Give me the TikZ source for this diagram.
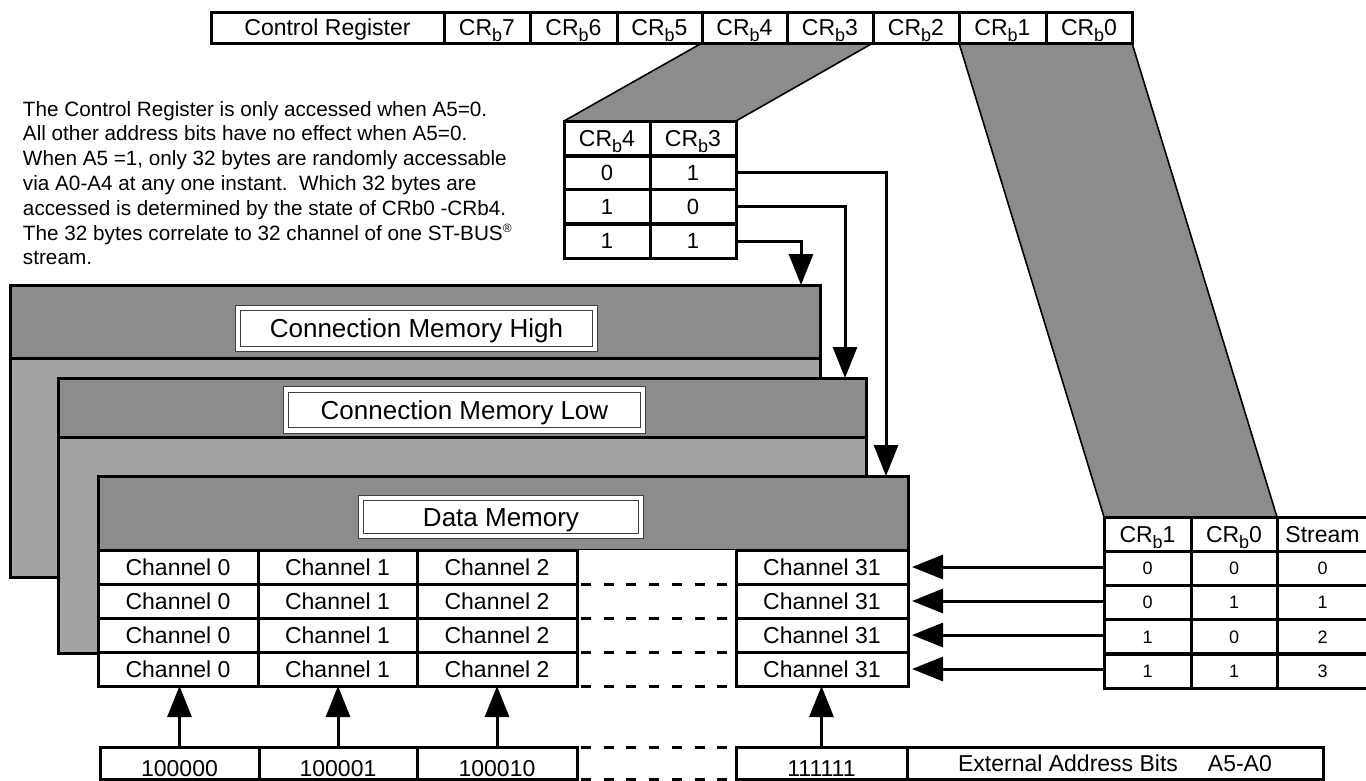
\documentclass[tikz,border=0pt]{standalone}
\usepackage{fontspec}
\setmainfont{Liberation Sans}
\usetikzlibrary{arrows.meta,calc,backgrounds}
\definecolor{dk}{RGB}{140,140,140}
\definecolor{lt}{RGB}{162,164,164}
\newcommand\crb[1]{CR\raisebox{-0.25em}{\fontsize{18}{18}\selectfont b}#1}
\begin{document}
\begin{tikzpicture}[x=1pt,y=-1pt,
 every node/.style={inner sep=0pt,outer sep=0pt},
 tb/.style={draw, line width=3pt, text height=16.5pt, text depth=0pt, font=\fontsize{23}{23}\selectfont},
 sm/.style={tb, text height=13pt, font=\fontsize{18}{18}\selectfont},
 md/.style={tb, text height=15.8pt, font=\fontsize{22}{22}\selectfont},
 ad/.style={tb, text height=26.5pt},
 lbl/.style={draw=black!75, line width=1pt, double=white, double distance=4.5pt, fill=white, text height=18.7pt, text depth=0pt, font=\fontsize{26}{26}\selectfont},
 mem/.style={draw, line width=3pt, fill=lt},
 hdr/.style={draw, line width=3pt, fill=dk},
 arr/.style={line width=3pt, -{Triangle[length=31pt,width=24pt]}},
 dsh/.style={line width=3pt, dash pattern=on 10pt off 12.7pt, dash phase=-4pt},
 wedge/.style={draw, line width=1.6pt, fill=dk, line join=round}]
\useasboundingbox (0,0) rectangle (1366,780);

% control register
\node[tb, minimum width=233, minimum height=31] (cr) at (327.5,27.5) {Control Register};
\node[tb, minimum width=86, minimum height=31] (b7) at (487,27.5) {\crb7};
\node[tb, minimum width=87, minimum height=31] (b6) at (573.5,27.5) {\crb6};
\node[tb, minimum width=85, minimum height=31] (b5) at (659.5,27.5) {\crb5};
\node[tb, minimum width=85, minimum height=31] (b4) at (744.5,27.5) {\crb4};
\node[tb, minimum width=86, minimum height=31] (b3) at (830,27.5) {\crb3};
\node[tb, minimum width=86, minimum height=31] (b2) at (916,27.5) {\crb2};
\node[tb, minimum width=87, minimum height=31] (b1) at (1002.5,27.5) {\crb1};
\node[tb, minimum width=86, minimum height=31] (b0) at (1089,27.5) {\crb0};

% paragraph
\node[anchor=north west, align=left, font=\fontsize{20.7}{24.8}\selectfont] (para) at (23,101)
 {The Control Register is only accessed when A5=0.\\
  All other address bits have no effect when A5=0.\\
  When A5 =1, only 32 bytes are randomly accessable\\
  via A0-A4 at any one instant.\ \ Which 32 bytes are\\
  accessed is determined by the state of CRb0 -CRb4.\\
  The 32 bytes correlate to 32 channel of one ST-BUS\raisebox{0.35em}{\fontsize{12}{12}\selectfont ®}\\
  stream.};

% small table CRb4/CRb3
\node[tb, minimum width=86, minimum height=35] (s4h) at (607,138.5) {\crb4};
\node[tb, minimum width=86, minimum height=35] (s3h) at (693,138.5) {\crb3};
\foreach \r/\y/\u/\v in {1/172.5/0/1, 2/206.5/1/0, 3/241/1/1} {
  \node[md, minimum width=86, minimum height=34] (s\r a) at (607,\y) {\u};
  \node[md, minimum width=86, minimum height=34] (s\r b) at (693,\y) {\v};
}

% right table
\node[tb, minimum width=87, minimum height=34] (rh1) at (1147.5,534) {\crb1};
\node[tb, minimum width=86, minimum height=34] (rh0) at (1234,534) {\crb0};
\node[tb, minimum width=91, minimum height=34] (rhs) at (1322.5,534) {Stream};
\foreach \r/\y/\u/\v/\w in {1/568/0/0/0, 2/602/0/1/1, 3/636.5/1/0/2, 4/671/1/1/3} {
  \node[sm, minimum width=87, minimum height=34] (r\r a) at (1147.5,\y) {\u};
  \node[sm, minimum width=86, minimum height=34] (r\r b) at (1234,\y) {\v};
  \node[sm, minimum width=91, minimum height=34] (r\r c) at (1322.5,\y) {\w};
}

% grey wedges
\begin{pgfonlayer}{background}
\draw[wedge] (b4.south west) -- (b3.south east) -- (s3h.north east) -- (s4h.north west) -- cycle;
\draw[wedge] (b1.south west) -- (b0.south east) -- (rh0.north east) -- (rh1.north west) -- cycle;
\end{pgfonlayer}

% memories
\node[mem, minimum width=810, minimum height=292] (cmh) at (415,431) {};
\draw[hdr] (cmh.north west) rectangle ($(cmh.north east)+(0,73)$);
\node[lbl, minimum width=357, minimum height=41] (cmhl) at (416.5,328.5) {Connection Memory High};

\node[mem, minimum width=808, minimum height=275] (cml) at (462,515.5) {};
\draw[hdr] (cml.north west) rectangle ($(cml.north east)+(0,59)$);
\node[lbl, minimum width=357, minimum height=41] (cmll) at (464.5,410) {Connection Memory Low};

\node[hdr, minimum width=810, minimum height=74] (dm) at (503,513) {};
\node[lbl, minimum width=280, minimum height=38] (dml) at (501,517) {Data Memory};
\fill[white] (dm.south west) rectangle ($(dm.south east)+(0,136)$);

% channel cells
\foreach \r/\y in {1/567,2/601,3/635,4/669} {
  \node[tb, minimum width=160, minimum height=34] (ch\r a) at (178,\y) {Channel 0};
  \node[tb, minimum width=159, minimum height=34] (ch\r b) at (337.5,\y) {Channel 1};
  \node[tb, minimum width=160, minimum height=34] (ch\r c) at (497,\y) {Channel 2};
  \node[tb, minimum width=172, minimum height=34] (ch\r d) at (822,\y) {Channel 31};
}
\foreach \r in {1,...,4} \draw[dsh] (ch\r c.south east) -- (ch\r d.south west);

% address bits
\node[ad, minimum width=159, minimum height=32] (a1) at (179.5,763) {100000};
\node[ad, minimum width=158, minimum height=32] (a2) at (338,763) {100001};
\node[ad, minimum width=160, minimum height=32] (a3) at (497,763) {100010};
\node[ad, minimum width=171, minimum height=32] (a4) at (821.5,763) {111111};
\node[tb, minimum width=416, minimum height=32] (ext) at (1115,763) {External Address Bits\hspace{30pt}A5-A0};
\draw[dsh] (a3.north east) -- (a4.north west);
\draw[dsh] (a3.south east) -- (a4.south west);

% arrows
\draw[arr] (s1b.east) -| ([xshift=-22]dm.north east);
\draw[arr] (s2b.east) -| ([xshift=-21]cml.north east);
\draw[arr] (s3b.east) -| ([xshift=-19]cmh.north east);
\foreach \r in {1,...,4} \draw[arr, shorten >=4pt] (r\r a.west |- ch\r d.east) -- (ch\r d.east);
\draw[arr] (a1.north) -- (a1.north |- ch4a.south);
\draw[arr] (a2.north) -- (a2.north |- ch4b.south);
\draw[arr] (a3.north) -- (a3.north |- ch4c.south);
\draw[arr] (a4.north) -- (a4.north |- ch4d.south);
\end{tikzpicture}
\end{document}
